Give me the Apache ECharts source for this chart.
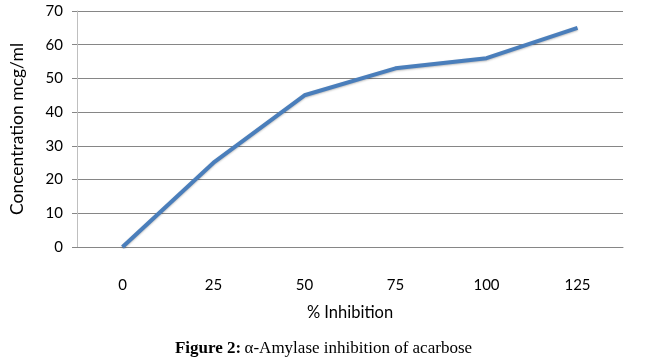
<!DOCTYPE html>
<html><head><meta charset="utf-8">
<script src="https://cdn.jsdelivr.net/npm/echarts@6/dist/echarts.min.js"></script>
<style>html,body{margin:0;padding:0;background:#fff}#c{width:647px;height:361px}</style>
</head><body><div id="c"></div>
<script>
const categories = ['0','25','50','75','100','125'];
const concentration = [0, 25, 45, 53, 56, 65];
const yTicks = {min:0, max:70, interval:10};

const chart = echarts.init(document.getElementById('c'), null, {renderer:'canvas'});
chart.setOption({
  animation:false,
  backgroundColor:'#fff',
  grid:{left:70, right:24, top:11, bottom:114, containLabel:false},
  xAxis:{
    type:'category', data:categories, boundaryGap:true,
    name:'% Inhibition', nameLocation:'middle', nameGap:57,
    nameTextStyle:{fontFamily:'Lato', fontSize:16.5, color:'#000'},
    axisLine:{show:true, lineStyle:{color:'#868686', width:1}},
    axisTick:{show:false},
    axisLabel:{fontFamily:'Lato', fontSize:15, color:'#000', margin:31}
  },
  yAxis:{
    type:'value', min:yTicks.min, max:yTicks.max, interval:yTicks.interval,
    name:'Concentration mcg/ml', nameLocation:'middle', nameGap:51,
    nameTextStyle:{fontFamily:'Lato', fontSize:17.5, color:'#000'},
    axisLine:{show:true, lineStyle:{color:'#bfbfbf', width:1}},
    axisTick:{show:true, length:5, lineStyle:{color:'#868686'}},
    axisLabel:{fontFamily:'Lato', fontSize:15, color:'#000', margin:14},
    splitLine:{show:true, lineStyle:{color:'#868686', width:1}}
  },
  series:[{
    type:'line', data:concentration, symbol:'none',
    lineStyle:{color:'#4a7ebb', width:4, shadowColor:'rgba(0,0,0,0.25)', shadowBlur:2, shadowOffsetY:1},
    itemStyle:{color:'#4a7ebb'}
  }],
  graphic:[{
    type:'text', left:'center', top:340,
    style:{
      rich:{b:{fontFamily:'Liberation Serif', fontWeight:'bold', fontSize:17, fill:'#000'},
            n:{fontFamily:'Liberation Serif', fontSize:17, fill:'#000'}},
      text:'{b|Figure 2:} {n|α-Amylase inhibition of acarbose}'
    }
  }]
});
</script></body></html>
